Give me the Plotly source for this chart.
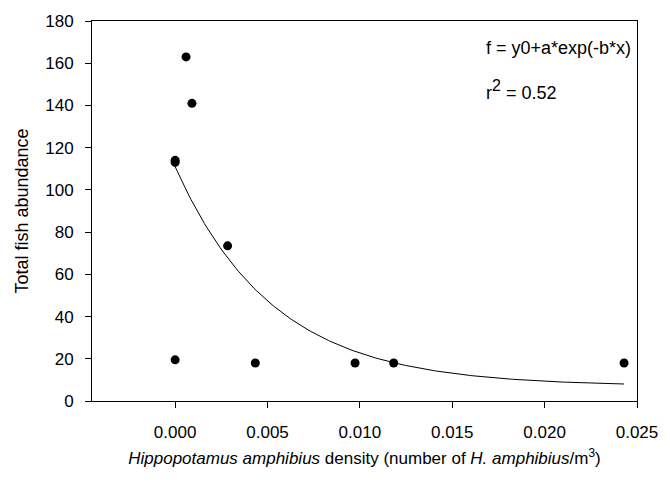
import numpy as np
import plotly.graph_objects as go

hippo_density = [0.0, 0.0, 0.0, 0.00059, 0.00091, 0.00284, 0.00434, 0.00974, 0.01183, 0.0243]
fish_abundance = [113, 114, 19.5, 163, 141, 73.5, 18, 18, 18, 18]

# Fitted model f = y0 + a*exp(-b*x) (parameters)
fit_y0 = 7.0
fit_a = 104.0
fit_b = 189.0

y_ticks = [0, 20, 40, 60, 80, 100, 120, 140, 160, 180]
x_ticks = [0.000, 0.005, 0.010, 0.015, 0.020, 0.025]

xc = np.linspace(0.0, max(hippo_density), 200)
yc = fit_y0 + fit_a * np.exp(-fit_b * xc)

fig = go.Figure()
fig.add_trace(go.Scatter(x=xc, y=yc, mode="lines",
                         line=dict(color="black", width=1), showlegend=False,
                         hoverinfo="skip"))
fig.add_trace(go.Scatter(x=hippo_density, y=fish_abundance, mode="markers",
                         marker=dict(color="black", size=9), showlegend=False))

font = "Liberation Sans, Arial, sans-serif"
fig.update_layout(
    width=670, height=483,
    margin=dict(l=92, r=27, t=14, b=82),
    paper_bgcolor="white", plot_bgcolor="white",
    font=dict(family=font, size=16, color="black"),
    xaxis=dict(range=[-0.0045, 0.025], tickvals=x_ticks, tickformat=".3f",
               ticks="outside", ticklen=6, tickcolor="black", tickwidth=1,
               showline=True, linecolor="black", linewidth=1, mirror=True,
               showgrid=False, zeroline=False, ticklabelstandoff=10,
               tickfont=dict(size=17),
               title=dict(text="<i>Hippopotamus amphibius</i> density (number of <i>H. amphibius</i>/m<sup>3</sup>)",
                          font=dict(size=17), standoff=10)),
    yaxis=dict(range=[0, 180], tickvals=y_ticks,
               ticks="outside", ticklen=6, tickcolor="black", tickwidth=1,
               showline=True, linecolor="black", linewidth=1, mirror=True,
               showgrid=False, zeroline=False, ticklabelstandoff=8,
               tickfont=dict(size=17),
               title=dict(text="Total fish abundance", font=dict(size=18), standoff=11)),
    annotations=[
        dict(text="f = y0+a*exp(-b*x)", xref="paper", yref="paper",
             x=(488 - 92) / 551, y=(401 - 41) / 387, xanchor="left", yanchor="middle",
             showarrow=False, font=dict(size=18)),
        dict(text="r<sup><span style='font-size:16px'>2</span></sup> = 0.52", xref="paper", yref="paper",
             x=(488 - 92) / 551, y=(401 - 84) / 387, xanchor="left", yanchor="middle",
             showarrow=False, font=dict(size=18)),
    ],
)

fig.write_html("out.html")
